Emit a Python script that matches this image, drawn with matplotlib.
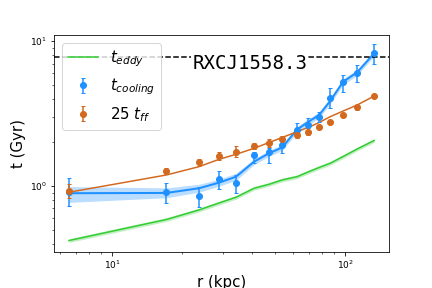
import numpy as np
import matplotlib
matplotlib.use('Agg')
import matplotlib.pyplot as plt

# radii (kpc)
r = [6.54, 17.13, 23.62, 28.80, 34.06, 40.69, 47.20, 53.66, 62.23, 69.36,
     77.34, 86.23, 98.04, 112.6, 133.2]

# cooling time data (Gyr) with errors
tcool = [0.913, 0.905, 0.849, 1.112, 1.044, 1.636, 1.708, 1.918, 2.433, 2.634,
         3.006, 4.064, 5.241, 5.987, 8.226]
tcool_hi = [1.130, 1.044, 0.989, 1.275, 1.191, 1.724, 1.819, 2.02, 2.73, 2.95,
            3.25, 4.72, 5.88, 6.83, 9.49]
tcool_lo = [0.728, 0.760, 0.713, 0.949, 0.890, 1.434, 1.448, 1.68, 2.17, 2.30,
            2.75, 3.43, 4.47, 5.19, 6.90]

# cooling time fit and its band
tcool_fit = [0.891, 0.895, 0.964, 1.054, 1.159, 1.471, 1.681, 1.843, 2.453, 2.763,
             3.088, 3.856, 5.241, 6.083, 8.226]
tcool_fit_lo = [0.77, 0.83, 0.905, 0.997, 1.096, 1.403, 1.603, 1.757, 2.339, 2.634,
                2.944, 3.677, 4.997, 5.800, 7.843]
tcool_fit_hi = [0.99, 0.97, 1.027, 1.114, 1.225, 1.543, 1.763, 1.933, 2.573, 2.898,
                3.239, 4.044, 5.497, 6.380, 8.627]

# 25 x free-fall time
tff = [0.928, 1.269, 1.457, 1.610, 1.724, 1.888, 1.989, 2.110, 2.247, 2.369,
       2.564, 2.776, 3.088, 3.489, 4.176]
tff_err = [0.10, 0.06, 0.08, 0.11, 0.15, 0.09, 0.13, 0.12, 0.11, 0.13,
           0.09, 0.10, 0.11, 0.12, 0.14]
tff_fit = [0.905, 1.191, 1.359, 1.528, 1.654, 1.820, 1.995, 2.160, 2.369, 2.532,
           2.741, 3.006, 3.290, 3.620, 4.176]

# eddy turnover time
teddy = [0.420, 0.587, 0.683, 0.763, 0.836, 0.964, 1.027, 1.100, 1.159, 1.249,
         1.341, 1.434, 1.597, 1.799, 2.060]

t_level = 7.75

fig = plt.figure(figsize=(6, 4), dpi=72)
ax = fig.add_axes([0.125, 0.125, 0.775, 0.753])

teddy = np.array(teddy)
ax.fill_between(r, teddy * 0.97, teddy * 1.03, color='limegreen', alpha=0.3, lw=0)
ax.plot(r, teddy, color='limegreen', lw=1.5, label='$t_{eddy}$')

ax.fill_between(r, tcool_fit_lo, tcool_fit_hi, color='dodgerblue', alpha=0.3, lw=0)
ax.plot(r, tcool_fit, color='dodgerblue', lw=2)
ax.plot(r, tff_fit, color='chocolate', lw=1.5)

tcool = np.array(tcool)
yerr_c = [tcool - np.array(tcool_lo), np.array(tcool_hi) - tcool]
ax.errorbar(r, tcool, yerr=yerr_c, fmt='o', color='dodgerblue', ms=6, capsize=2,
            elinewidth=1.5, label='$t_{cooling}$')
tff = np.array(tff)
ax.errorbar(r, tff, yerr=tff_err, fmt='o', color='chocolate', ms=6, capsize=2,
            elinewidth=1.5, label='$25\\ t_{ff}$')

ax.axhline(t_level, color='k', ls='--', lw=1.5)
ax.text(0.585, 0.87, 'RXCJ1558.3', transform=ax.transAxes, ha='center', va='center',
        fontsize=19, family='DejaVu Sans Mono',
        bbox=dict(facecolor='white', edgecolor='none', pad=1))

ax.set_xscale('log')
ax.set_yscale('log')
ax.set_xlim(5.64, 154)
ax.set_ylim(0.35, 11.0)
ax.set_xlabel('r (kpc)', fontsize=15)
ax.set_ylabel('t (Gyr)', fontsize=15)
ax.tick_params(labelsize=9)
ax.legend(loc='upper left', fontsize=15)

fig.savefig('out.png', dpi=72)
